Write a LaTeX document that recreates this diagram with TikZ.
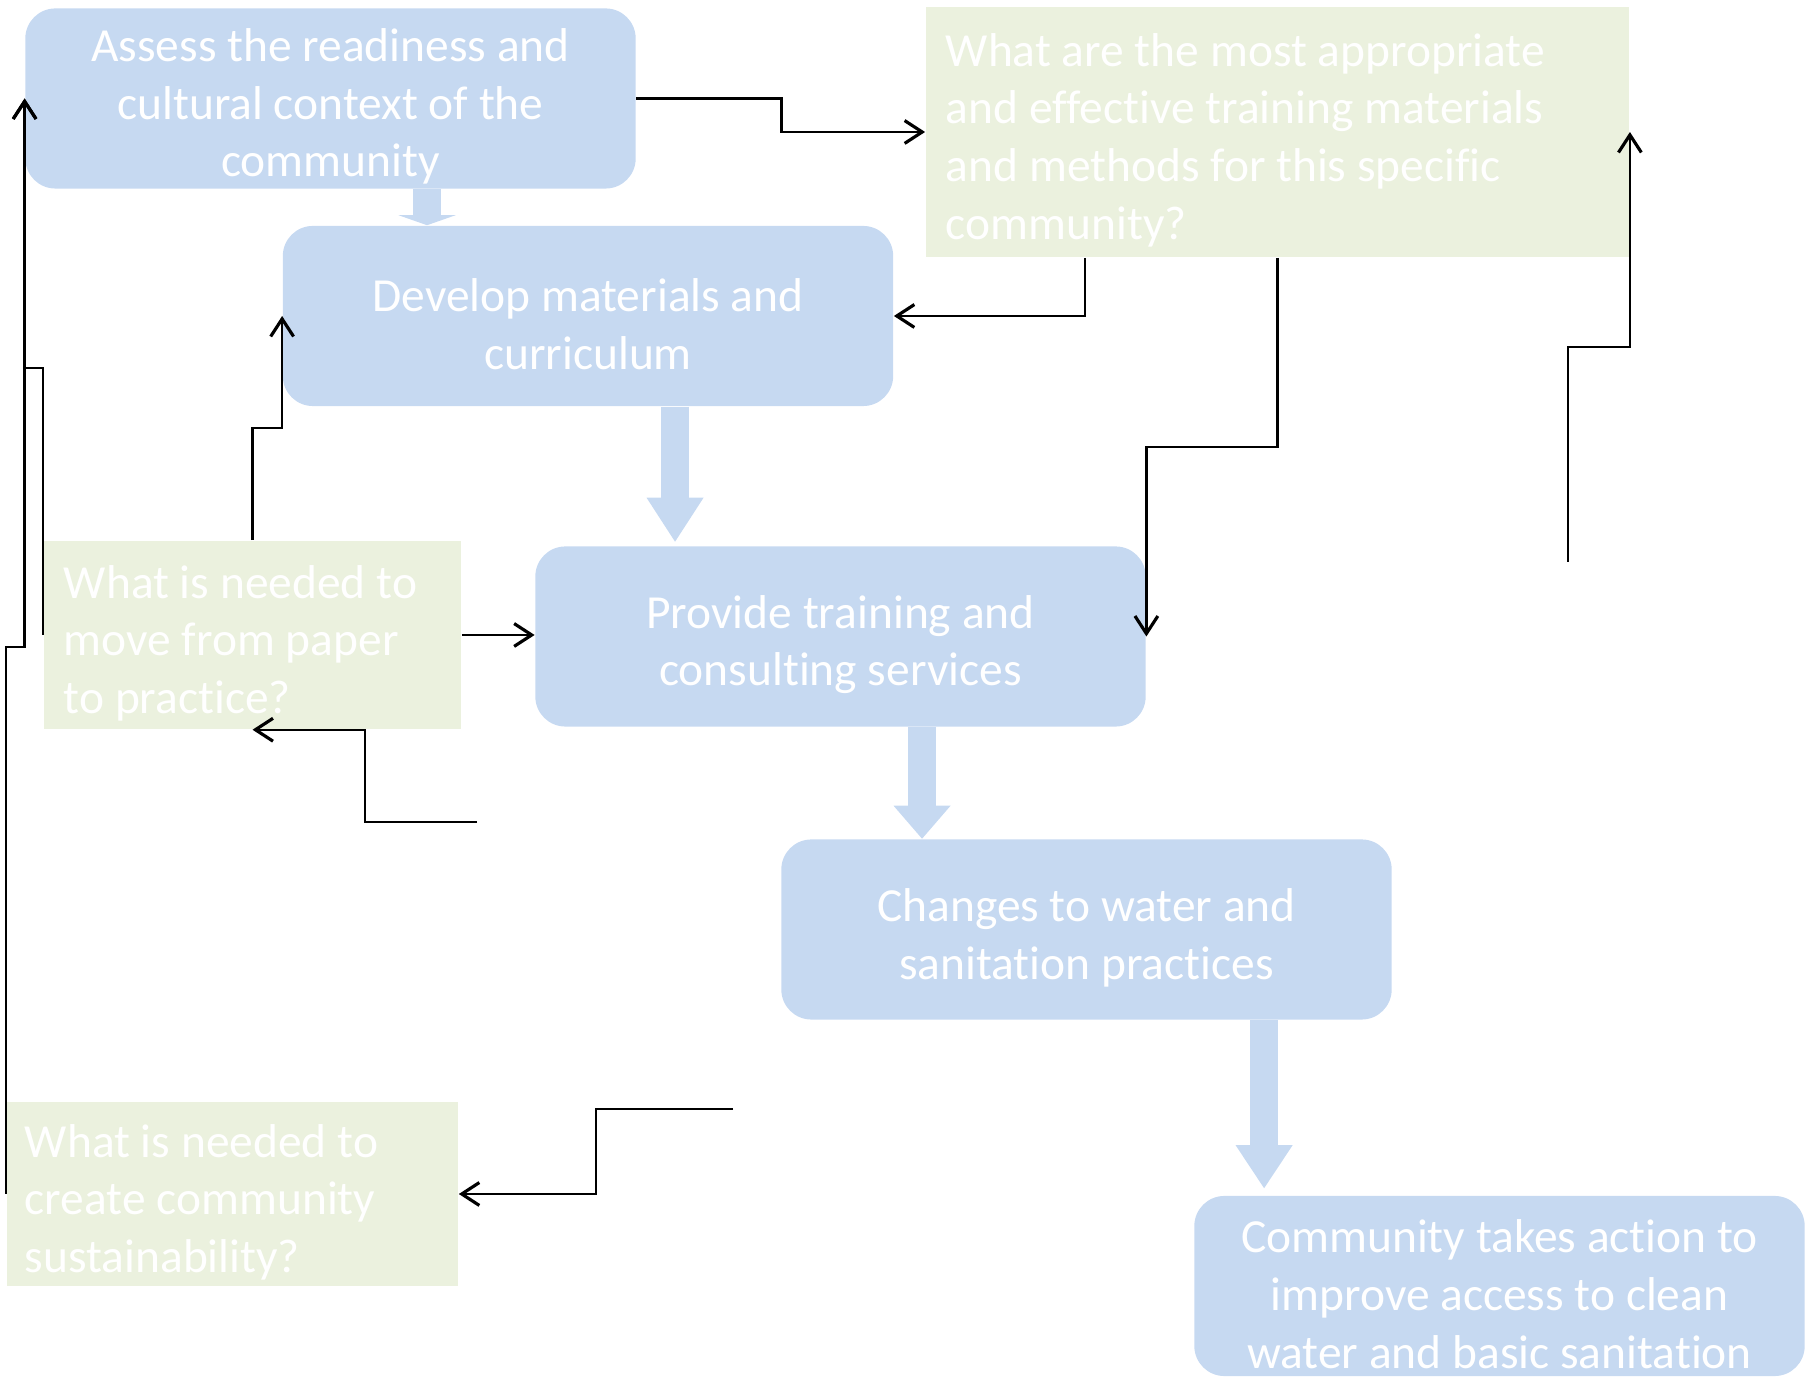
\documentclass[tikz,border=0pt]{standalone}
\usepackage{fontspec}
\setmainfont{Carlito}[Ligatures=NoCommon]
\usepackage{tikz}
\usetikzlibrary{arrows.meta}
\usepackage{xcolor}
\definecolor{stageblue}{HTML}{C6D9F1}
\definecolor{askgreen}{HTML}{EBF1DE}

\begin{document}
\begin{tikzpicture}[
      x=0.01cm, y=-0.01cm,
      stage/.style={fill=stageblue, rounded corners=0.3cm, text width=6.1cm,
                    minimum height=1.8cm, align=flush center, text=white, inner sep=0pt,
                    font=\fontsize{13.5}{16.4}\selectfont,
                    execute at begin node={\rule{0pt}{14pt}}},
      ask/.style={fill=askgreen, align=flush left, text=white, inner xsep=0.2cm,
                  inner ysep=0pt, font=\fontsize{13.5}{16.4}\selectfont,
                  execute at begin node={\rule{0pt}{14pt}}},
      flow/.style={draw=stageblue, line width=0.28cm,
                   -{Triangle[length=#1, width=0.57cm, line width=0pt]}},
      link/.style={draw=black, line width=0.7pt,
                   -{Straight Barb[length=5pt, width=6.5pt, line width=0.9pt]}}
    ]
    \useasboundingbox (0,0) rectangle (1812,1377);
    \node[stage] (assess) at (330.5,98.5)
      {Assess the readiness and\\cultural context of the\\community};
    \node[stage] (develop) at (588,316) {Develop materials and\\curriculum};
    \node[stage] (provide) at (840.5,636.5) {Provide training and\\consulting services};
    \node[stage] (changes) at (1086.5,929.5) {Changes to water and\\sanitation practices};
    \node[stage] (action) at (1499.5,1286)
      {Community takes action to\\improve access to clean\\water and basic sanitation};
    \node[ask, text width=6.63cm, minimum height=2.5cm] (methods) at (1277.5,132)
      {What are the most appropriate\\and effective training materials\\and methods for this specific\\community?};
    \node[ask, text width=3.77cm, minimum height=1.88cm] (paper) at (252.5,635)
      {What is needed to\\move from paper\\to practice?};
    \node[ask, text width=4.15cm, inner xsep=0.18cm, minimum height=1.84cm] (sustain) at (232.5,1194)
      {What is needed to\\create community\\sustainability?};
    \draw[flow=0.1cm] ([xshift=0.965cm]assess.south)
      -- ([xshift=0.965cm]assess.south |- develop.north);
    \draw[flow=0.44cm] ([xshift=0.87cm]develop.south)
      -- ([xshift=0.87cm,yshift=0.04cm]develop.south |- provide.north);
    \draw[flow=0.33cm] ([xshift=0.815cm]provide.south)
      -- ([xshift=0.815cm]provide.south |- changes.north);
    \draw[flow=0.43cm] ([xshift=1.775cm]changes.south)
      -- ([xshift=1.775cm,yshift=0.07cm]changes.south |- action.north);
    \coordinate (loopstart) at (1568,562);
    \coordinate (backstart) at (477,822);
    \coordinate (sustainstart) at (733,1109);
    \draw[link] (assess.east) -- ++(145,0) |- (methods.west);
    \draw[link] ([xshift=1.6cm]methods.south west) |- (develop.east);
    \draw[link] (methods.south) -- ++(0,189) -| (provide.east);
    \draw[link] (loopstart) -- ++(0,-215) -| (methods.east);
    \draw[link] (paper.north) -- ++(0,-112) -| (develop.west);
    \draw[link] (paper.west) -- ++(0,-267) -| (assess.west);
    \draw[link] (sustain.west) -- ++(0,-547) -| (assess.west);
    \draw[link] (paper.east) -- (paper.east -| provide.west);
    \draw[link] (backstart) -- ++(-112,0) |- (paper.south);
    \draw[link] (sustainstart) -- ++(-137,0) |- (sustain.east);
  \end{tikzpicture}
\end{document}
